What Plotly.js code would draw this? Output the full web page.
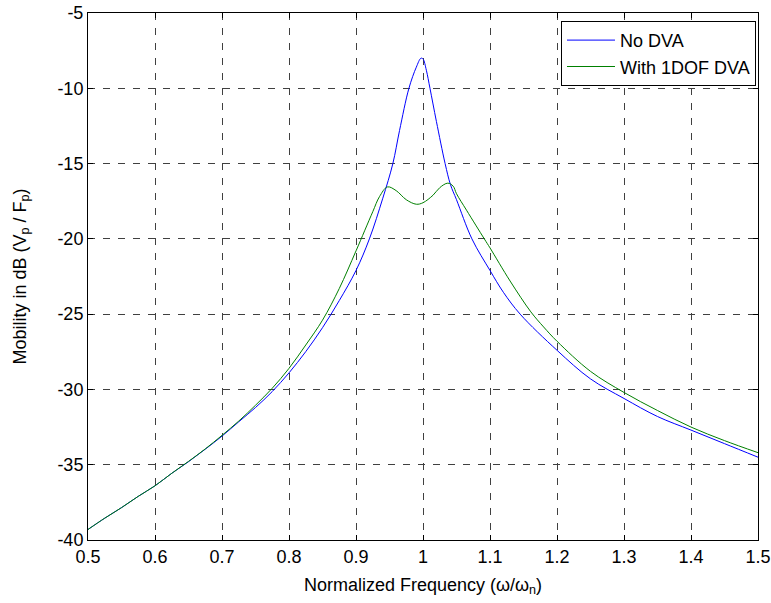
<!DOCTYPE html>
<html>
<head>
<meta charset="utf-8">
<script src="https://cdn.plot.ly/plotly-3.0.1.min.js"></script>
<style>html,body{margin:0;padding:0;background:#fff;}#chart{width:771px;height:603px;}</style>
</head>
<body>
<div id="chart"></div>
<script>
// Normalized frequency and mobility (dB)
const freqNoDVA = [0.5, 0.525, 0.55, 0.575, 0.6, 0.625, 0.65, 0.675, 0.7, 0.725, 0.75, 0.775, 0.8, 0.825, 0.85, 0.875, 0.9, 0.92, 0.94, 0.955, 0.965, 0.979, 0.99, 0.997, 1.0, 1.005, 1.0104, 1.02, 1.033, 1.041, 1.05, 1.073, 1.1, 1.12, 1.145, 1.2, 1.25, 1.3, 1.35, 1.4, 1.45, 1.5];
const mobNoDVA  = [-39.3, -38.55, -37.85, -37.1, -36.4, -35.57, -34.8, -33.97, -33.1, -32.15, -31.2, -30.14, -28.9, -27.49, -25.9, -24.1, -22.1, -20.0, -17.3, -15.0, -12.8, -10.0, -8.6, -8.0, -8.05, -8.8, -10.0, -12.2, -15.0, -16.4, -17.4, -20.0, -22.1, -23.55, -25.0, -27.4, -29.3, -30.6, -31.8, -32.7, -33.6, -34.5];

const freqDVA = [0.5, 0.525, 0.55, 0.575, 0.6, 0.625, 0.65, 0.675, 0.7, 0.725, 0.75, 0.775, 0.8, 0.825, 0.85, 0.875, 0.9, 0.925, 0.935, 0.947, 0.96, 0.975, 0.99, 1.0, 1.015, 1.025, 1.037, 1.045, 1.05, 1.065, 1.0915, 1.1, 1.13, 1.161, 1.18, 1.2, 1.25, 1.3, 1.35, 1.4, 1.45, 1.5];
const mobDVA  = [-39.3, -38.55, -37.85, -37.1, -36.4, -35.57, -34.78, -33.95, -33.05, -32.1, -31.05, -29.92, -28.6, -27.05, -25.4, -23.3, -20.8, -18.2, -17.2, -16.55, -16.8, -17.4, -17.7, -17.6, -17.1, -16.6, -16.3, -16.5, -17.0, -18.1, -20.0, -20.6, -22.8, -24.85, -25.85, -26.8, -28.8, -30.2, -31.4, -32.5, -33.4, -34.2];

const seriesNames = ["No DVA", "With 1DOF DVA"];
const xTickVals = [0.5, 0.6, 0.7, 0.8, 0.9, 1.0, 1.1, 1.2, 1.3, 1.4, 1.5];
const xTickText = ["0.5", "0.6", "0.7", "0.8", "0.9", "1", "1.1", "1.2", "1.3", "1.4", "1.5"];
const yTickVals = [-40, -35, -30, -25, -20, -15, -10, -5];
const yTickText = ["-40", "-35", "-30", "-25", "-20", "-15", "-10", "-5"];

const font = "Liberation Sans, Arial, sans-serif";

const traces = [
  {x: freqNoDVA, y: mobNoDVA, name: seriesNames[0], type: "scatter", mode: "lines",
   line: {color: "#0000ff", width: 1, shape: "spline", smoothing: 1}},
  {x: freqDVA, y: mobDVA, name: seriesNames[1], type: "scatter", mode: "lines",
   line: {color: "#008000", width: 1, shape: "spline", smoothing: 1}}
];

const axisCommon = {
  showline: true, linecolor: "#000", linewidth: 1, mirror: "ticks",
  ticks: "inside", ticklen: 5, tickcolor: "#000",
  showgrid: true, gridcolor: "#404040", griddash: "7px,8px", gridwidth: 1,
  zeroline: false, tickfont: {family: font, size: 18, color: "#000"}
};

const layout = {
  width: 771, height: 603,
  margin: {l: 88, r: 13, t: 13, b: 63},
  paper_bgcolor: "#fff", plot_bgcolor: "#fff",
  showlegend: true,
  legend: {x: 0.997, y: 0.985, xanchor: "right", yanchor: "top",
           bgcolor: "#fff", bordercolor: "#000", borderwidth: 1, itemwidth: 48,
           font: {family: font, size: 18, color: "#000"}, tracegroupgap: 0},
  xaxis: Object.assign({}, axisCommon, {
    range: [0.5, 1.5], tickvals: xTickVals, ticktext: xTickText, automargin: false,
    title: {text: "Normalized Frequency (ω/ω<sub>n</sub>)", font: {family: font, size: 18, color: "#000"}, standoff: 12}
  }),
  yaxis: Object.assign({}, axisCommon, {
    range: [-40, -5], tickvals: yTickVals, ticktext: yTickText, automargin: false,
    title: {text: "Mobility in dB (V<sub>p</sub> / F<sub>p</sub>)", font: {family: font, size: 18, color: "#000"}, standoff: 26}
  })
};

Plotly.newPlot("chart", traces, layout, {displayModeBar: false, staticPlot: true});
</script>
</body>
</html>
